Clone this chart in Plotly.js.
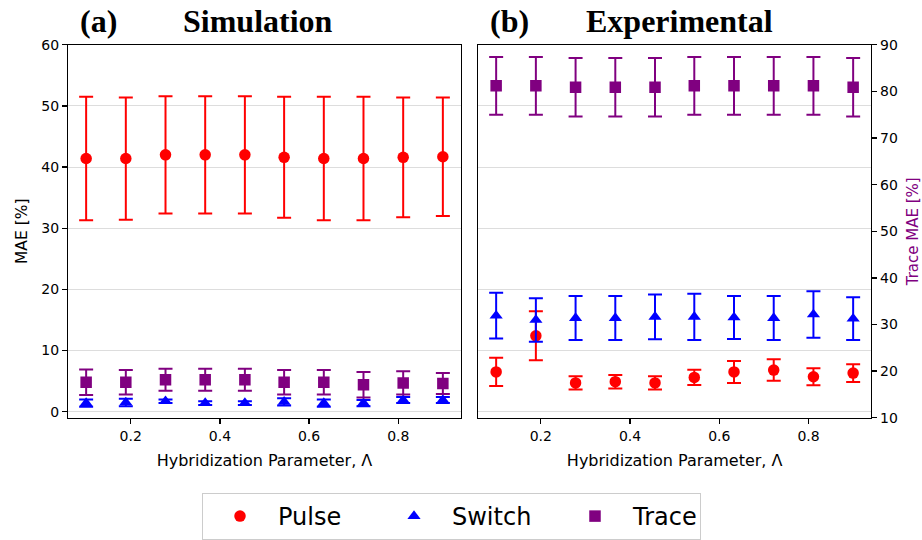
<!DOCTYPE html>
<html>
<head>
<meta charset="utf-8">
<script src="https://cdn.plot.ly/plotly-3.0.1.min.js"></script>
<style>
html,body{margin:0;padding:0;background:#fff;}
#chart{width:922px;height:540px;}
</style>
</head>
<body>
<div id="chart"></div>
<script>
// Hybridization parameter values
const lambdaVals = [0.1, 0.189, 0.278, 0.367, 0.456, 0.544, 0.633, 0.722, 0.811, 0.9];

// (a) Simulation
const pulseSim     = [41.4, 41.4, 42.0, 42.0, 42.0, 41.6, 41.4, 41.4, 41.6, 41.7];
const pulseSimErr  = [10.1, 10.0, 9.6, 9.6, 9.6, 9.9, 10.1, 10.1, 9.8, 9.7];
const switchSim    = [1.4, 1.5, 1.7, 1.4, 1.4, 1.6, 1.4, 1.4, 1.9, 1.9];
const switchSimErr = [0.6, 0.6, 0.3, 0.3, 0.3, 0.6, 0.6, 0.5, 0.5, 0.5];
const traceSim     = [4.8, 4.8, 5.2, 5.2, 5.2, 4.8, 4.8, 4.4, 4.7, 4.6];
const traceSimErr  = [2.1, 2.0, 1.8, 1.8, 1.8, 2.0, 2.0, 2.1, 1.9, 1.7];

// (b) Experimental (Pulse, Switch on shared left axis; Trace on right axis)
const pulseExp     = [6.5, 12.4, 4.7, 4.9, 4.7, 5.6, 6.5, 6.8, 5.7, 6.3];
const pulseExpErr  = [2.3, 4.0, 1.1, 1.1, 1.1, 1.25, 1.8, 1.75, 1.4, 1.45];
const switchExp    = [15.7, 15.0, 15.3, 15.3, 15.5, 15.5, 15.4, 15.3, 15.9, 15.2];
const switchExpErr = [3.75, 3.55, 3.6, 3.6, 3.65, 3.8, 3.5, 3.6, 3.8, 3.5];
const traceExp     = [81.2, 81.2, 80.9, 80.9, 80.9, 81.2, 81.2, 81.2, 81.2, 80.9];
const traceExpErr  = [6.2, 6.2, 6.3, 6.3, 6.3, 6.2, 6.2, 6.2, 6.2, 6.3];

const seriesNames = ['Pulse', 'Switch', 'Trace'];
const xTicks = [0.2, 0.4, 0.6, 0.8];

const W = 922, H = 540;
const px = v => v / W;
const py = v => 1 - v / H;

const colors = {Pulse: '#ff0000', Switch: '#0000ff', Trace: '#800080'};
const symbols = {Pulse: 'circle', Switch: 'triangle-up', Trace: 'square'};
const legendWidths = {Pulse: 93, Switch: 100, Trace: 62};

function tr(name, y, err, xa, ya, show) {
  return {
    type: 'scatter', mode: 'markers', name: name,
    x: lambdaVals, y: y, xaxis: xa, yaxis: ya,
    showlegend: show, legendgroup: name, legendwidth: legendWidths[name],
    marker: {color: colors[name], symbol: symbols[name], size: 11.5},
    error_y: {type: 'data', array: err, visible: true, color: colors[name], thickness: 2, width: 7}
  };
}

const data = [
  tr('Pulse', pulseSim, pulseSimErr, 'x', 'y', true),
  tr('Switch', switchSim, switchSimErr, 'x', 'y', true),
  tr('Trace', traceSim, traceSimErr, 'x', 'y', true),
  tr('Pulse', pulseExp, pulseExpErr, 'x2', 'y2', false),
  tr('Switch', switchExp, switchExpErr, 'x2', 'y2', false),
  tr('Trace', traceExp, traceExpErr, 'x2', 'y3', false)
];

const tickFont = {family: 'DejaVu Sans', size: 14, color: '#000'};
const axBase = {
  showline: true, linecolor: '#000', linewidth: 1.3, mirror: false,
  ticks: 'outside', ticklen: 5, tickwidth: 1.3, tickcolor: '#000',
  tickfont: tickFont, zeroline: false
};

const layout = {
  width: W, height: H,
  margin: {l: 0, r: 0, t: 0, b: 0},
  paper_bgcolor: '#fff', plot_bgcolor: '#fff',
  showlegend: true,
  legend: {
    orientation: 'h', x: px(202), xanchor: 'left', y: py(495), yanchor: 'top',
    font: {family: 'DejaVu Sans', size: 24, color: '#000'},
    bordercolor: '#cccccc', borderwidth: 1, bgcolor: '#fff',
    itemwidth: 66, entrywidthmode: 'pixels'
  },
  xaxis: Object.assign({}, axBase, {
    domain: [px(68.3), px(460.7)], range: [0.06, 0.94], anchor: 'y',
    tickvals: xTicks, ticktext: xTicks.map(v => v.toFixed(1)), showgrid: false, mirror: true,
    title: {text: 'Hybridization Parameter, Λ', font: {family: 'DejaVu Sans', size: 16, color: '#000'}, standoff: 12}
  }),
  yaxis: Object.assign({}, axBase, {
    domain: [py(419.3), py(45)], range: [-1, 60], anchor: 'x', dtick: 10, tick0: 0,
    showgrid: true, gridcolor: '#dddddd', gridwidth: 1, mirror: true,
    title: {text: 'MAE [%]', font: {family: 'DejaVu Sans', size: 15.5, color: '#000'}, standoff: 10}
  }),
  xaxis2: Object.assign({}, axBase, {
    domain: [px(478.3), px(871)], range: [0.06, 0.94], anchor: 'y2',
    tickvals: xTicks, ticktext: xTicks.map(v => v.toFixed(1)), showgrid: false, mirror: true,
    title: {text: 'Hybridization Parameter, Λ', font: {family: 'DejaVu Sans', size: 16, color: '#000'}, standoff: 12}
  }),
  yaxis2: Object.assign({}, axBase, {
    domain: [py(419.3), py(45)], range: [-1, 60], anchor: 'x2', dtick: 10, tick0: 0,
    showgrid: true, gridcolor: '#dddddd', gridwidth: 1, showticklabels: false, ticks: '', mirror: false
  }),
  yaxis3: Object.assign({}, axBase, {
    overlaying: 'y2', side: 'right', anchor: 'x2', range: [10, 90], dtick: 10, tick0: 10,
    showgrid: false,
    title: {text: 'Trace MAE [%]', font: {family: 'DejaVu Sans', size: 15, color: '#800080'}, standoff: 10}
  }),
  annotations: [
    {text: '<b>(a)</b>', x: px(98.5), y: py(21), xref: 'paper', yref: 'paper', showarrow: false, xanchor: 'center', yanchor: 'middle', font: {family: 'Liberation Serif', size: 32, color: '#000'}},
    {text: '<b>Simulation</b>', x: px(258), y: py(21), xref: 'paper', yref: 'paper', showarrow: false, xanchor: 'center', yanchor: 'middle', font: {family: 'Liberation Serif', size: 32, color: '#000'}},
    {text: '<b>(b)</b>', x: px(509.5), y: py(21), xref: 'paper', yref: 'paper', showarrow: false, xanchor: 'center', yanchor: 'middle', font: {family: 'Liberation Serif', size: 32, color: '#000'}},
    {text: '<b>Experimental</b>', x: px(679.5), y: py(21), xref: 'paper', yref: 'paper', showarrow: false, xanchor: 'center', yanchor: 'middle', font: {family: 'Liberation Serif', size: 32, color: '#000'}}
  ]
};

Plotly.newPlot('chart', data, layout, {displayModeBar: false, staticPlot: true});
</script>
</body>
</html>
